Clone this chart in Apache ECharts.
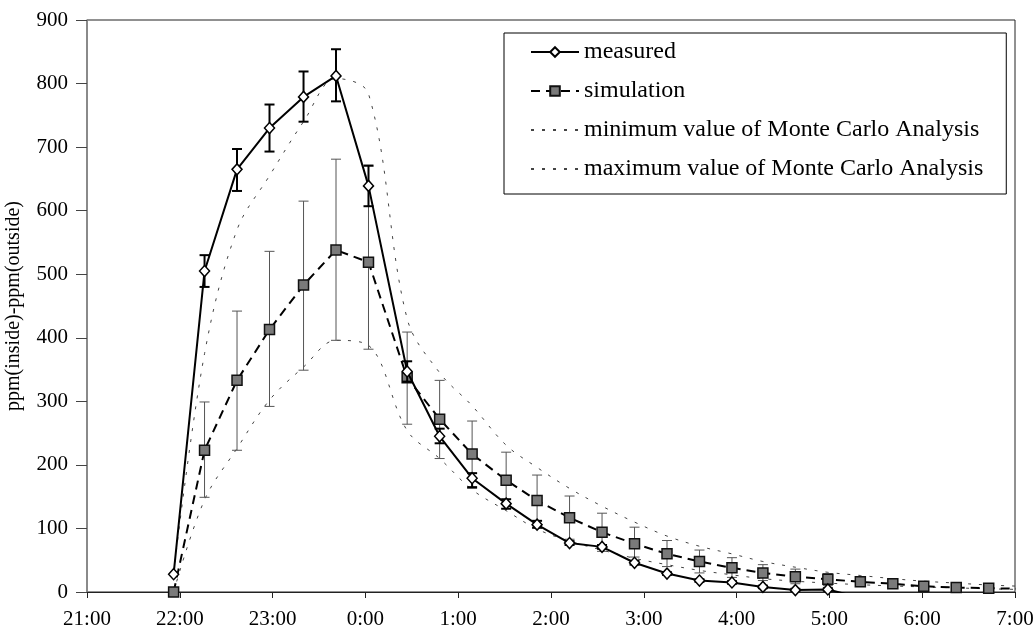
<!DOCTYPE html>
<html>
<head>
<meta charset="utf-8">
<script src="https://cdn.jsdelivr.net/npm/echarts@6/dist/echarts.min.js"></script>
<style>html,body{margin:0;padding:0;background:#fff;}#c{width:1034px;height:632px;}</style>
</head>
<body>
<div id="c"></div>
<script>
const tickLabels = ["21:00","22:00","23:00","0:00","1:00","2:00","3:00","4:00","5:00","6:00","7:00"];
const times = ["21:56","22:16","22:37","22:58","23:20","23:41","0:02","0:27","0:48","1:09","1:31","1:51","2:12","2:33","2:54","3:15","3:36","3:57","4:17","4:38","4:59","5:20","5:41","6:01","6:22","6:43","7:04"];
const measured = [28,505,665,730,779,812,639,347,245,179,139,106,77,71,46,29,18,15,8,3,4,-9,-9,-9,-9,-9,-9];
const measuredLow  = [28,480,631,693,740,772,607,331,234,165,131,101,74,68,43,27,16,13,6,1,2,-9,-9,-9,-9,-9,-9];
const measuredHigh = [28,530,697,767,819,854,671,363,257,187,146,112,80,74,49,31,20,17,10,5,6,-9,-9,-9,-9,-9,-9];
const simulation = [0,223,333,413,483,538,519,337,272,217,176,144,117,94,76,60,48,38,30,24,20,16,13,9,7,6,5];
const simLow  = [0,149,223,292,349,396,382,264,210,163,140,106,83,64,55,40,30,23,18,13,10,9,8,6,5,4,3];
const simHigh = [0,299,442,536,615,681,670,409,333,269,220,184,151,124,102,81,66,54,43,36,29,24,20,15,11,9,7];
const mcMin = [0,145,226,302,354,396,388,254,210,161,128,99,80,66,53,43,34,27,21,17,14,11.5,9.5,8,6.5,5,4];
const mcMax = [30,375,570,655,740,808,784,430,345,293,231,196,163,135,110,88,72,60,48,39,31,26,21,17,14,11,9];

function toMin(t){ const p=t.split(':'); let h=+p[0]; if(h<21) h+=24; return (h-21)*60 + (+p[1]); }
const xs = times.map(toMin);
const pair = arr => xs.map((x,i)=>[x, arr[i]]);
const triple = (lo,hi) => xs.map((x,i)=>[x, lo[i], hi[i]]);

const FONT = 'Liberation Serif';

function errRender(color, width, cap){
  return function(params, api){
    const x = api.value(0), lo = api.value(1), hi = api.value(2);
    if (hi - lo < 0.5) return {type:'group', children:[]};
    const a = api.coord([x, lo]), b = api.coord([x, hi]);
    const st = {stroke: color, lineWidth: width};
    return {type:'group', children:[
      {type:'line', shape:{x1:a[0],y1:a[1],x2:b[0],y2:b[1]}, style:st},
      {type:'line', shape:{x1:a[0]-cap,y1:a[1],x2:a[0]+cap,y2:a[1]}, style:st},
      {type:'line', shape:{x1:b[0]-cap,y1:b[1],x2:b[0]+cap,y2:b[1]}, style:st}
    ]};
  };
}

const hiddenDot = {color:'rgba(0,0,0,0)', borderColor:'rgba(0,0,0,0)', borderWidth:0};

const chart = echarts.init(document.getElementById('c'), null, {renderer:'canvas'});
chart.setOption({
  backgroundColor:'#fff',
  animation:false,
  textStyle:{fontFamily:FONT, color:'#000'},
  grid:{left:87, right:19, top:20, bottom:40, show:true, borderColor:'#222', borderWidth:1, outerBoundsMode:'none'},
  legend:{
    orient:'vertical', left:504, top:33,
    data:['measured','simulation','minimum value of Monte Carlo Analysis','maximum value of Monte Carlo Analysis'],
    itemWidth:48, itemHeight:12, itemGap:15,
    padding:[7,23,13,26],
    borderColor:'#000', borderWidth:1,
    textStyle:{fontFamily:FONT, fontSize:24, color:'#000'},
    backgroundColor:'#fff'
  },
  xAxis:{
    type:'value', min:0, max:600, interval:60,
    axisLine:{onZero:false, lineStyle:{color:'#222', width:1.2}},
    axisTick:{length:6, lineStyle:{color:'#222'}},
    splitLine:{show:false},
    axisLabel:{fontFamily:FONT, fontSize:21, color:'#000', margin:17,
      formatter: v => tickLabels[Math.round(v/60)]}
  },
  yAxis:{
    type:'value', min:0, max:900, interval:100,
    name:'ppm(inside)-ppm(outside)', nameLocation:'middle', nameGap:63,
    nameTextStyle:{fontFamily:FONT, fontSize:20, color:'#000'},
    axisLine:{lineStyle:{color:'#888', width:1.5}},
    axisTick:{length:11, lineStyle:{color:'#444'}},
    splitLine:{show:false},
    axisLabel:{fontFamily:FONT, fontSize:21, color:'#000', margin:19}
  },
  series:[
    {name:'simErr', type:'custom', renderItem: errRender('#555', 1, 5), data: triple(simLow, simHigh), encode:{x:0, y:[1,2]}, clip:true, z:2, silent:true},
    {name:'minimum value of Monte Carlo Analysis', type:'line', data: pair(mcMin), smooth:0.35, symbol:'circle', showSymbol:false, clip:true,
      lineStyle:{color:'#444', width:1, type:[3,8]}, itemStyle:hiddenDot, z:1},
    {name:'maximum value of Monte Carlo Analysis', type:'line', data: pair(mcMax), smooth:0.35, symbol:'circle', showSymbol:false, clip:true,
      lineStyle:{color:'#444', width:1, type:[3,8]}, itemStyle:hiddenDot, z:1},
    {name:'simulation', type:'line', data: pair(simulation), symbol:'rect', symbolSize:10, clip:true,
      lineStyle:{color:'#000', width:2, type:[9,6]},
      itemStyle:{color:'#7a7a7a', borderColor:'#111', borderWidth:1.5}, z:4},
    {name:'measuredErr', type:'custom', renderItem: errRender('#000', 2, 5), data: triple(measuredLow, measuredHigh), encode:{x:0, y:[1,2]}, clip:true, z:5, silent:true},
    {name:'measured', type:'line', data: pair(measured), symbol:'diamond', symbolSize:[10,11], clip:true,
      lineStyle:{color:'#000', width:2},
      itemStyle:{color:'#fff', borderColor:'#000', borderWidth:1.5}, z:6}
  ]
});
</script>
</body>
</html>
